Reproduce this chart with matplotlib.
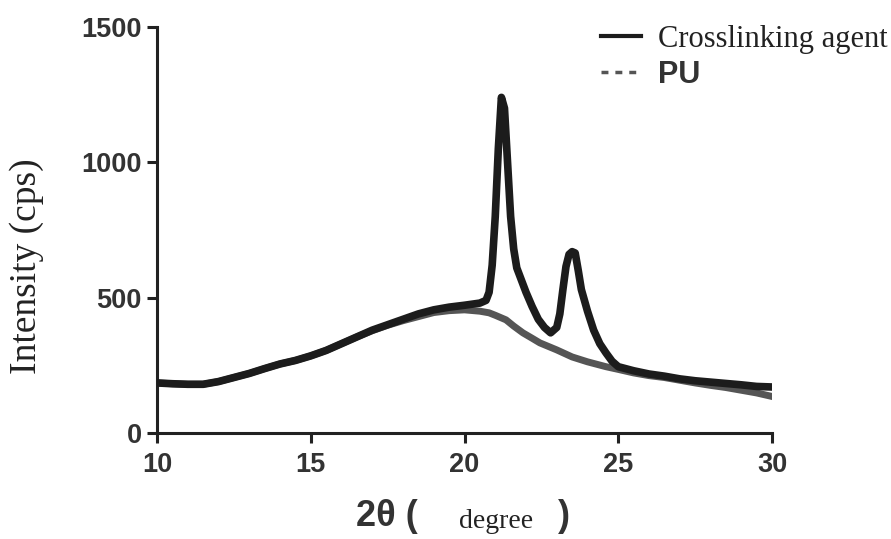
import matplotlib
matplotlib.use("Agg")
import matplotlib.pyplot as plt
from matplotlib.lines import Line2D

# Crosslinking agent XRD pattern
x_cross = [10, 10.5, 11, 11.5, 12, 12.5, 13, 13.5, 14, 14.5, 15, 15.5, 16, 16.5, 17, 17.5,
           18, 18.5, 19, 19.5, 20, 20.5, 20.7, 20.8, 20.9, 21.0, 21.1, 21.2, 21.3, 21.4,
           21.5, 21.6, 21.7, 21.8, 22.0, 22.2, 22.4, 22.6, 22.8, 23.0, 23.1, 23.2, 23.3,
           23.4, 23.5, 23.6, 23.7, 23.8, 24.0, 24.2, 24.4, 24.6, 24.8, 25.0, 25.5, 26,
           26.5, 27, 27.5, 28, 28.5, 29, 29.5, 30]
y_cross = [185, 182, 180, 180, 190, 205, 220, 238, 255, 268, 285, 305, 330, 355, 380, 400,
           420, 440, 455, 465, 472, 480, 490, 520, 620, 800, 1050, 1240, 1200, 1000,
           800, 680, 610, 580, 520, 467, 420, 390, 370, 390, 440, 530, 615,
           660, 670, 665, 600, 530, 450, 380, 330, 296, 265, 245, 230, 218,
           210, 200, 193, 188, 183, 178, 172, 170]

# PU XRD pattern
x_pu = [10, 10.5, 11, 11.5, 12, 12.5, 13, 13.5, 14, 14.5, 15, 15.5, 16, 16.5, 17, 17.5,
        18, 18.5, 19, 19.5, 20, 20.5, 20.8, 21.0, 21.35, 21.6, 21.9, 22.2, 22.45, 23.0,
        23.5, 24.0, 24.6, 25.0, 25.5, 26, 26.5, 27, 27.5, 28, 28.5, 29, 29.5, 30]
y_pu = [185, 182, 180, 180, 190, 205, 220, 238, 255, 268, 285, 305, 330, 355, 378, 398,
        415, 430, 445, 452, 455, 450, 444, 435, 418, 395, 370, 350, 333, 307,
        281, 263, 245, 235, 222, 212, 205, 195, 185, 176, 168, 158, 148, 135]

x_ticks = [10, 15, 20, 25, 30]
y_ticks = [0, 500, 1000, 1500]
legend_labels = ["Crosslinking agent", "PU"]

W, H = 891, 539
fig = plt.figure(figsize=(W / 100, H / 100), dpi=100)
ax = fig.add_axes([157 / W, 1 - 433 / H, (772 - 157) / W, (433 - 27) / H])

ax.plot(x_pu, y_pu, color="#555555", lw=5, solid_joinstyle="round", zorder=2)
ax.plot(x_cross, y_cross, color="#1c1c1c", lw=5.5, solid_joinstyle="round", zorder=3)

ax.set_xlim(10, 30)
ax.set_ylim(0, 1500)
ax.set_xticks(x_ticks)
ax.set_yticks(y_ticks)
for s in ["top", "right"]:
    ax.spines[s].set_visible(False)
for s in ["left", "bottom"]:
    ax.spines[s].set_linewidth(2.2)
    ax.spines[s].set_color("#222222")
ax.tick_params(direction="out", length=7, width=2.2, color="#222222", pad=5)
ax.tick_params(axis="x", pad=7)
ax.tick_params(axis="y", pad=4)
for lab in ax.get_xticklabels() + ax.get_yticklabels():
    lab.set_fontfamily("Liberation Sans")
    lab.set_fontweight("bold")
    lab.set_fontsize(19.5)
    lab.set_color("#333333")

ax.set_ylabel("Intensity (cps)", fontfamily="Liberation Serif", fontsize=27, color="#222222")
ax.yaxis.set_label_coords(-0.183, 0.41)

# x label pieces
fig.text(356 / W, 1 - 517 / H, "2θ (", fontfamily="Liberation Sans", fontweight="bold",
         fontsize=26, color="#333333", ha="left", va="center")
fig.text(459 / W, 1 - 521 / H, "degree", fontfamily="Liberation Serif",
         fontsize=20, color="#222222", ha="left", va="center")
fig.text(558 / W, 1 - 517 / H, ")", fontfamily="Liberation Sans", fontweight="bold",
         fontsize=26, color="#333333", ha="left", va="center")

handles = [Line2D([], [], color="#1c1c1c", lw=3),
           Line2D([], [], color="#555555", lw=2.5, ls=(0, (2, 2)))]
leg = ax.legend(handles, legend_labels, loc="upper left", frameon=False,
                bbox_to_anchor=(601 / W, 1 - 25 / H), bbox_transform=fig.transFigure,
                borderaxespad=0, borderpad=0, handlelength=1.3, handletextpad=0.55,
                labelspacing=0.2, fontsize=22)
t0, t1 = leg.get_texts()
t0.set_fontfamily("Liberation Serif")
t0.set_color("#222222")
t1.set_fontfamily("Liberation Sans")
t1.set_fontweight("bold")
t1.set_color("#333333")

fig.savefig("out.png", dpi=100)
